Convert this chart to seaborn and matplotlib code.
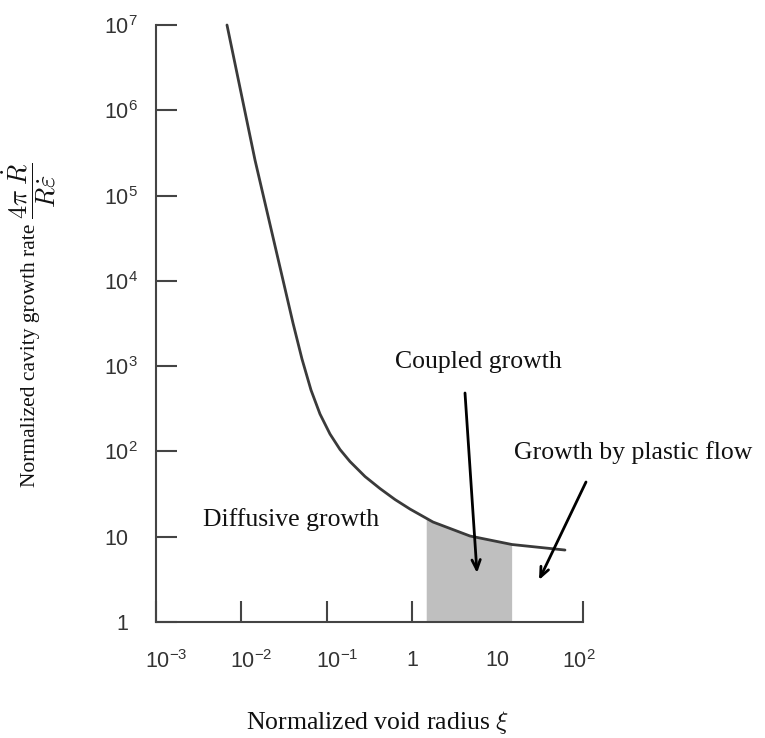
import numpy as np
import pandas as pd
import matplotlib
matplotlib.use("Agg")
import matplotlib.pyplot as plt
from matplotlib.ticker import NullLocator
from matplotlib.transforms import ScaledTranslation
import seaborn as sns

# ---- data ----
void_radius = [0.00678, 0.01443, 0.03069, 0.0402, 0.05124, 0.06531, 0.08324,
               0.1090, 0.1428, 0.1869, 0.2802, 0.4198, 0.6288, 0.9424,
               1.752, 4.752, 14.74, 61.5]
growth_rate = [1.0e7, 2.61e5, 1.022e4, 3.20e3, 1211, 524.6, 274.5,
               160, 105.3, 76.1, 50.8, 36.7, 27.3, 21.1,
               14.87, 10.19, 8.10, 6.98]
coupled_range = [1.46, 14.6]

x_ticks = [1e-3, 1e-2, 1e-1, 1, 10, 100]
x_tick_labels = [r"$10^{-3}$", r"$10^{-2}$", r"$10^{-1}$", "1", "10", r"$10^{2}$"]
y_ticks = [1, 10, 1e2, 1e3, 1e4, 1e5, 1e6, 1e7]
y_tick_labels = ["1", "10", r"$10^{2}$", r"$10^{3}$", r"$10^{4}$",
                 r"$10^{5}$", r"$10^{6}$", r"$10^{7}$"]

region_labels = ["Coupled growth", "Growth by plastic flow", "Diffusive growth"]
x_label = r"Normalized void radius $\xi$"
y_label_text = "Normalized cavity growth rate"
y_label_math = r"$\dfrac{4\pi\;\dot{R}}{R\dot{\varepsilon}}$"

# ---- style ----
sns.set_style("ticks")
plt.rcParams["mathtext.fontset"] = "custom"
plt.rcParams["mathtext.rm"] = "Liberation Sans"
plt.rcParams["mathtext.it"] = "Liberation Sans:italic"
plt.rcParams["font.family"] = ["Liberation Sans", "DejaVu Sans"]

W, H = 765, 738
fig = plt.figure(figsize=(W / 100, H / 100), dpi=100)
fig.patch.set_facecolor("white")
ax = fig.add_axes([156 / W, 1 - 622 / H, (583 - 156) / W, (622 - 25) / H])

df = pd.DataFrame({"xi": void_radius, "rate": growth_rate})

# shaded coupled-growth region under the curve
lx = np.log10(void_radius)
ly = np.log10(growth_rate)
lo, hi = np.log10(coupled_range[0]), np.log10(coupled_range[1])
inside = lx[(lx > lo) & (lx < hi)]
xs = np.concatenate([[lo], inside, [hi]])
ys = np.interp(xs, lx, ly)
ax.fill_between(10 ** xs, 1, 10 ** ys, color="#bfbfbf", lw=0, zorder=1)

ax.set_xscale("log")
ax.set_yscale("log")
sns.lineplot(data=df, x="xi", y="rate", ax=ax, color="#3a3a3a", lw=2.0,
             zorder=3, clip_on=False)

ax.set_xlim(1e-3, 1e2)
ax.set_ylim(1, 1e7)
ax.set_xticks(x_ticks, x_tick_labels)
ax.set_yticks(y_ticks, y_tick_labels)
ax.xaxis.set_minor_locator(NullLocator())
ax.yaxis.set_minor_locator(NullLocator())
ax.set_xlabel("")
ax.set_ylabel("")
ax.tick_params(axis="both", direction="in", length=15, width=1.5,
               color="#444444", labelcolor="#333333", labelsize=15.5)
ax.tick_params(axis="x", pad=20)
ax.tick_params(axis="y", pad=20)
for s in ["top", "right"]:
    ax.spines[s].set_visible(False)
for s in ["left", "bottom"]:
    ax.spines[s].set_linewidth(1.5)
    ax.spines[s].set_color("#444444")
ax.set_facecolor("white")


def shift(label, dx):
    label.set_transform(label.get_transform()
                        + ScaledTranslation(dx / 100, 0, fig.dpi_scale_trans))


# superscripts hang past the tick, as in the source figure
for lab in ax.get_xticklabels():
    if "-" in lab.get_text():
        shift(lab, 10)
    elif "^" in lab.get_text():
        shift(lab, -4)
for lab in ax.get_yticklabels():
    if "^" in lab.get_text():
        shift(lab, 10)

serif = ["Liberation Serif", "DejaVu Serif"]


def fp(x, y):
    return (x / W, 1 - y / H)


fs = 18.5
fig.text(*fp(478, 362), region_labels[0], ha="center", va="center",
         family=serif, fontsize=fs, color="#111111")
fig.text(*fp(633, 453), region_labels[1], ha="center", va="center",
         family=serif, fontsize=fs, color="#111111")
fig.text(*fp(291, 520), region_labels[2], ha="center", va="center",
         family=serif, fontsize=fs, color="#111111")
fig.text(*fp(378, 722), x_label, ha="center", va="center",
         family=serif, fontsize=fs, color="#111111", math_fontfamily="cm")
fig.text(*fp(31, 224), y_label_text, ha="center", va="top", rotation=90,
         family=serif, fontsize=15.5, color="#111111")
fig.text(*fp(29, 219), y_label_math, ha="center", va="bottom", rotation=90,
         family=serif, fontsize=19, color="#111111", math_fontfamily="cm")

arrow = dict(arrowstyle="->,head_length=0.7,head_width=0.3", lw=2,
             color="black", shrinkA=0, shrinkB=0)
ax.annotate("", xy=fp(477, 573), xycoords="figure fraction",
            xytext=fp(465, 393), textcoords="figure fraction",
            arrowprops=arrow, annotation_clip=False)
ax.annotate("", xy=fp(539, 580), xycoords="figure fraction",
            xytext=fp(586, 482), textcoords="figure fraction",
            arrowprops=arrow, annotation_clip=False)

fig.savefig("out.png", dpi=100, facecolor="white")
